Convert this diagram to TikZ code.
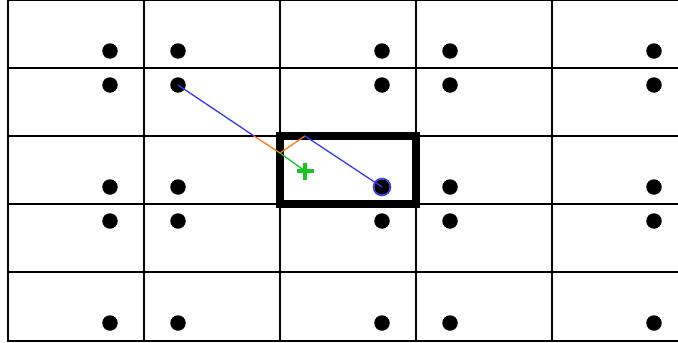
\documentclass[tikz,border=0pt]{standalone}
\usepackage{tikz}
\usetikzlibrary{positioning}

\definecolor{rayblue}{RGB}{55,55,250}
\definecolor{rayorange}{RGB}{255,120,20}
\definecolor{raygreen}{RGB}{20,200,30}

\begin{document}
\begin{tikzpicture}[
        x=1pt, y=-1pt,
        gridline/.style={black, line width=2pt},
        dot/.style={circle, fill=black, inner sep=0pt, minimum size=15.5pt},
        ray/.style={rayblue, line width=1.3pt},
        kinkline/.style={rayorange, line width=1.3pt},
        hint/.style={raygreen, line width=1.3pt},
        cellbox/.style={draw=black, line width=8pt, inner sep=0pt,
            minimum width=136pt, minimum height=68pt}
    ]
        \useasboundingbox (0,0) rectangle (678,343);
        \fill[white] (0,0) rectangle (678,343);
        \clip (0,0) rectangle (678,343);

        % grid
        \foreach \gx in {8,144,280,416,552}
            \draw[gridline] (\gx,0) -- (\gx,340.5);
        \foreach \gy in {0,68,136,204,272,340.5}
            \draw[gridline] (7,\gy) -- (690,\gy);

        % sample points
        \foreach \dx [count=\i] in {110,178,382,450,654}
            \foreach \dy [count=\j] in {51,85,187,221,323}
                \node[dot] (d-\i-\j) at (\dx,\dy) {};

        \node[cellbox] (cell) at (348,170) {};
        \node[circle, draw=rayblue, line width=1.5pt, minimum size=17pt,
            inner sep=0pt] (hit) at (d-3-3) {};

        \coordinate (enter) at (254,136);
        \coordinate (kink) at (280,153);
        \coordinate (leave) at (305,136);
        \coordinate (goal) at (305,171);

        \draw[ray] (d-2-2.center) -- (enter);
        \draw[kinkline] (enter) -- (kink) -- (leave);
        \draw[ray] (leave) -- (d-3-3.center);
        \draw[hint] (kink) -- (goal);
        \draw[raygreen, line width=4.5pt]
            (goal) +(-8.5,0) -- +(8.5,0)
            (goal) +(0,-8.5) -- +(0,8.5);
    \end{tikzpicture}
\end{document}
